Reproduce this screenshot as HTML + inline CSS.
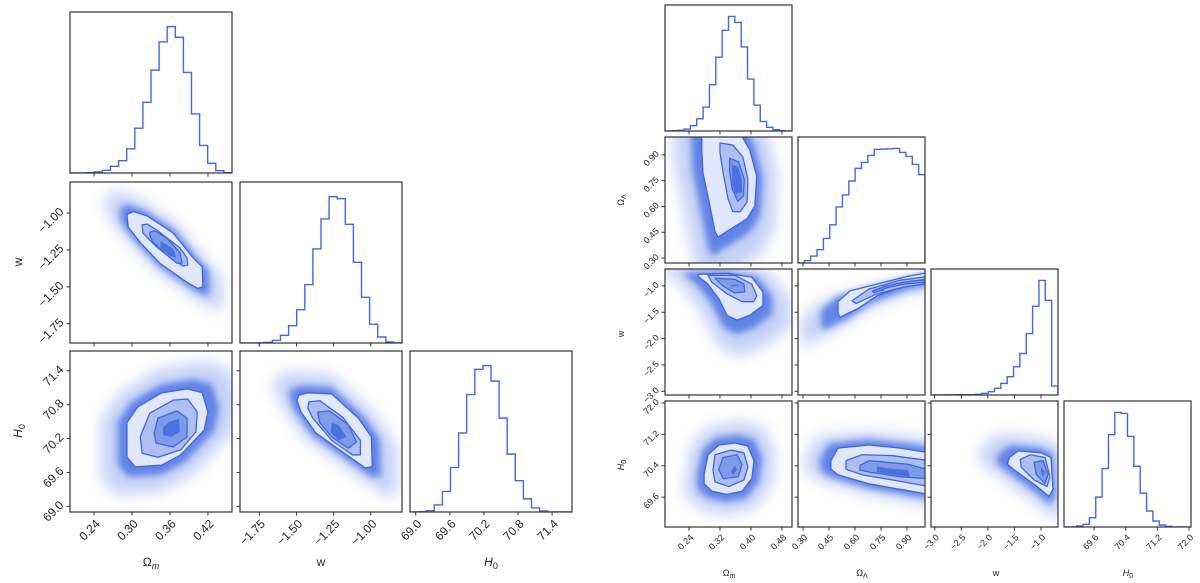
<!DOCTYPE html>
<html><head><meta charset="utf-8">
<style>
html,body{margin:0;padding:0;background:#fff;}
svg{display:block;font-family:"Liberation Sans","DejaVu Sans",sans-serif;}
</style></head>
<body>
<svg id="fig" width="1200" height="583" viewBox="0 0 1200 583" xmlns="http://www.w3.org/2000/svg">
<defs>
<filter id="blurA" x="-50%" y="-50%" width="200%" height="200%"><feGaussianBlur stdDeviation="7"/></filter>
<filter id="blurB" x="-50%" y="-50%" width="200%" height="200%"><feGaussianBlur stdDeviation="3.5"/></filter>
</defs>
</svg>
<script>
// ---------- 1D histogram counts (20 bins each) ----------
const L_OM_HIST = [0,0,1,3,8,20,37,73,135,213,310,395,441,409,303,178,83,29,7,1];
const L_W_HIST  = [0,0,0.5,2,8,23,52,100,175,282,372,439,433,356,242,137,56,18,3,0];
const L_H0_HIST = [0,1,4,21,61,132,235,349,424,435,389,279,172,93,39,12,3,0,0,0];
const R_OM_HIST = [0,1,2,6,16,37,72,140,223,304,346,328,254,157,78,29,11,4,1,0];
const R_OL_HIST = [0,7,21,40,74,115,169,205,247,285,303,324,342,343,344,345,333,321,297,266];
const R_W_HIST  = [0.3,0.3,0.5,0.5,1,1,1,2,5,10,20,35,55,85,125,185,267,345,285,27];
const R_H0_HIST = [0,0,3,8,28,90,176,278,345,342,273,183,102,48,18,6,2,0,0,0];

// ---------- axis ranges & ticks ----------
const L_OM_RANGE = [0.202,0.458], L_W_RANGE = [-1.88,-0.79], L_H0_RANGE = [68.9,71.75];
const L_OM_TICKS = [0.24,0.30,0.36,0.42];
const L_W_TICKS = [-1.75,-1.50,-1.25,-1.00];
const L_H0_TICKS = [69.0,69.6,70.2,70.8,71.4];
const R_OM_RANGE = [0.178,0.506], R_OL_RANGE = [0.271,1.004], R_W_RANGE = [-3.07,-0.68], R_H0_RANGE = [68.84,72.05];
const R_OM_TICKS = [0.24,0.32,0.40,0.48];
const R_OL_TICKS = [0.30,0.45,0.60,0.75,0.90];
const R_W_TICKS = [-3.0,-2.5,-2.0,-1.5,-1.0];
const R_H0_TICKS = [69.6,70.4,71.2,72.0];

// ---------- 2D contour levels (data coordinates) ----------
const L_OM_W = {
 outer:[[0.292,-1.01],[0.302,-0.99],[0.324,-1.02],[0.365,-1.135],[0.396,-1.30],[0.411,-1.365],[0.412,-1.50],[0.404,-1.51],[0.387,-1.47],[0.344,-1.34],[0.313,-1.20],[0.294,-1.095]],
 mid:[[0.316,-1.08],[0.324,-1.075],[0.339,-1.115],[0.376,-1.237],[0.387,-1.305],[0.388,-1.352],[0.381,-1.359],[0.365,-1.318],[0.339,-1.23],[0.317,-1.134]],
 inner:[[0.328,-1.13],[0.336,-1.12],[0.355,-1.17],[0.376,-1.27],[0.379,-1.34],[0.371,-1.34],[0.355,-1.284],[0.333,-1.196],[0.328,-1.15]],
 core:[[0.345,-1.19],[0.365,-1.24],[0.37,-1.3],[0.36,-1.29],[0.345,-1.235]]
};
const L_OM_H0 = {
 outer:[[0.292,70.48],[0.309,70.76],[0.347,71.01],[0.388,71.08],[0.411,71.01],[0.420,70.67],[0.414,70.35],[0.377,69.91],[0.347,69.73],[0.305,69.70],[0.292,69.87],[0.292,70.23]],
 mid:[[0.313,70.23],[0.328,70.65],[0.365,70.88],[0.388,70.90],[0.403,70.67],[0.401,70.32],[0.377,70.0],[0.341,69.87],[0.316,69.94]],
 inner:[[0.335,70.30],[0.341,70.56],[0.371,70.69],[0.387,70.56],[0.387,70.23],[0.365,70.05],[0.338,70.12]],
 core:[[0.349,70.39],[0.358,70.49],[0.374,70.55],[0.376,70.32],[0.362,70.23],[0.349,70.26]]
};
const L_W_H0 = {
 outer:[[-1.483,70.97],[-1.417,71.01],[-1.263,70.99],[-1.083,70.56],[-0.996,70.23],[-0.990,69.70],[-1.037,69.68],[-1.163,69.91],[-1.37,70.30],[-1.47,70.67],[-1.497,70.88]],
 mid:[[-1.417,70.85],[-1.343,70.87],[-1.19,70.58],[-1.07,70.17],[-1.07,69.91],[-1.123,69.91],[-1.263,70.17],[-1.39,70.56],[-1.423,70.74]],
 inner:[[-1.357,70.67],[-1.277,70.69],[-1.15,70.44],[-1.097,70.14],[-1.15,70.03],[-1.263,70.23],[-1.343,70.48]],
 core:[[-1.263,70.48],[-1.217,70.44],[-1.163,70.23],[-1.217,70.17],[-1.27,70.32]]
};
const R_OM_OL = {
 outer:[[0.273,1.03],[0.371,1.03],[0.397,0.929],[0.415,0.775],[0.410,0.603],[0.390,0.529],[0.338,0.455],[0.315,0.421],[0.307,0.455],[0.294,0.603],[0.276,0.797],[0.273,0.929]],
 mid:[[0.320,0.969],[0.353,0.957],[0.379,0.889],[0.392,0.757],[0.390,0.626],[0.372,0.569],[0.353,0.569],[0.341,0.643],[0.328,0.797],[0.320,0.912]],
 inner:[[0.345,0.88],[0.368,0.86],[0.383,0.757],[0.381,0.66],[0.366,0.63],[0.352,0.70],[0.345,0.80]],
 core:[[0.351,0.843],[0.366,0.832],[0.377,0.757],[0.377,0.683],[0.359,0.672],[0.351,0.740]]
};
const R_OM_W = {
 outer:[[0.263,-0.781],[0.338,-0.763],[0.402,-0.837],[0.431,-1.114],[0.431,-1.373],[0.397,-1.558],[0.364,-1.65],[0.338,-1.558],[0.317,-1.244],[0.289,-0.966],[0.266,-0.837]],
 mid:[[0.289,-0.80],[0.358,-0.80],[0.402,-0.966],[0.415,-1.188],[0.407,-1.30],[0.377,-1.30],[0.338,-1.151],[0.299,-0.929]],
 inner:[[0.307,-0.855],[0.358,-0.874],[0.382,-0.966],[0.384,-1.114],[0.358,-1.133],[0.328,-1.003]],
 core:[[0.345,-0.99],[0.365,-0.975],[0.37,-1.0],[0.35,-1.01]]
};
const R_OL_W = {
 outer:[[0.502,-1.30],[0.571,-1.096],[0.727,-0.966],[0.906,-0.818],[1.03,-0.744],[1.03,-0.91],[0.883,-1.003],[0.727,-1.188],[0.617,-1.429],[0.513,-1.595],[0.502,-1.52]],
 mid:[[0.583,-1.28],[0.681,-1.059],[0.86,-0.892],[1.03,-0.818],[1.03,-0.948],[0.883,-1.022],[0.727,-1.151],[0.606,-1.336]],
 inner:[[0.70,-1.10],[0.78,-1.0],[0.88,-0.93],[1.03,-0.87],[1.03,-0.92],[0.88,-0.97],[0.78,-1.04],[0.71,-1.13]],
 core:[[0.73,-1.09],[0.76,-1.07],[0.77,-1.09],[0.74,-1.11]]
};
const R_OM_H0 = {
 outer:[[0.279,70.19],[0.289,70.68],[0.317,70.93],[0.359,70.98],[0.392,70.90],[0.408,70.53],[0.402,70.07],[0.377,69.75],[0.338,69.67],[0.299,69.75],[0.279,69.94]],
 mid:[[0.302,70.29],[0.307,70.68],[0.348,70.80],[0.382,70.73],[0.392,70.36],[0.382,70.04],[0.343,69.87],[0.307,69.99]],
 inner:[[0.317,70.31],[0.328,70.61],[0.364,70.68],[0.377,70.44],[0.367,70.12],[0.328,70.07]],
 core:[[0.348,70.24],[0.359,70.41],[0.364,70.29],[0.354,70.17]]
};
const R_OL_H0 = {
 outer:[[0.461,70.53],[0.502,70.85],[0.681,70.93],[0.86,70.85],[1.03,70.73],[1.03,69.67],[0.86,69.80],[0.681,69.94],[0.502,70.17],[0.461,70.31]],
 mid:[[0.548,70.53],[0.64,70.68],[0.813,70.66],[1.03,70.53],[1.03,69.87],[0.813,70.04],[0.64,70.17],[0.548,70.31]],
 inner:[[0.629,70.41],[0.681,70.53],[0.906,70.44],[1.03,70.29],[1.03,70.07],[0.86,70.12],[0.681,70.24],[0.629,70.29]],
 core:[[0.727,70.39],[0.773,70.34],[0.906,70.29],[0.917,70.12],[0.813,70.17],[0.727,70.24]]
};
const R_W_H0 = {
 outer:[[-1.596,70.61],[-1.428,70.78],[-1.0,70.73],[-0.812,70.61],[-0.775,69.80],[-0.85,69.62],[-1.073,69.87],[-1.50,70.29],[-1.633,70.44]],
 mid:[[-1.391,70.56],[-1.204,70.68],[-0.924,70.61],[-0.831,70.12],[-0.887,69.87],[-1.129,70.04],[-1.372,70.36]],
 inner:[[-1.129,70.49],[-0.962,70.53],[-0.869,70.19],[-0.924,69.94],[-1.092,70.19]],
 core:[[-1.0,70.36],[-0.924,70.24],[-0.962,70.12],[-1.0,70.22]]
};

const NS = "http://www.w3.org/2000/svg";
const svg = document.getElementById('fig');
let clipId = 0;
function mk(tag, attrs, parent){
  const e = document.createElementNS(NS, tag);
  for (const k in attrs) e.setAttribute(k, attrs[k]);
  (parent||svg).appendChild(e);
  return e;
}
function scales(P){
  const xs = v => P.x + (v - P.xr[0]) / (P.xr[1] - P.xr[0]) * P.w;
  const ys = v => P.y + P.h - (v - P.yr[0]) / (P.yr[1] - P.yr[0]) * P.h;
  return [xs, ys];
}
function fmt(v, d){ const s = Math.abs(v).toFixed(d); return (v < 0 ? "\u2212" : "") + s; }

function frame(P, name){
  const g = mk('g', {});
  
  
  const cid = 'clip' + (clipId++);
  const cp = mk('clipPath', {id: cid}, g);
  mk('rect', {x:P.x, y:P.y, width:P.w, height:P.h}, cp);
  const inner = mk('g', {'clip-path':'url(#'+cid+')'}, g);
  return [g, inner];
}
function border(g, P){
  const r = mk('rect', {x:P.x, y:P.y, width:P.w, height:P.h, fill:'none', stroke:'#333', 'stroke-width':1.2}, g);
  
  
}
function rotLabel(g, ax, ay, fs, txt, name){
  const wrap = mk('g', {transform:'translate(' + ax.toFixed(2) + ',' + ay.toFixed(2) + ') rotate(-45)'}, g);
  const tx = mk('text', {x:0, y:0, dy:(fs*0.35).toFixed(2), 'font-size':fs, 'text-anchor':'end', fill:'#222'}, wrap);
  
  
  tx.textContent = txt;
}
function xticks(g, P, ticks, dec, labels, fs){
  const [xs] = scales(P);
  ticks.forEach(t => {
    const x = xs(t);
    mk('line', {x1:x, x2:x, y1:P.y+P.h, y2:P.y+P.h+3.5, stroke:'#333', 'stroke-width':1}, g);
    if (labels) rotLabel(g, x + fs*0.3, P.y + P.h + 6 + fs*0.3, fs, fmt(t, dec), 'x-tick-label');
  });
}
function yticks(g, P, ticks, dec, labels, fs){
  const [, ys] = scales(P);
  ticks.forEach(t => {
    const y = ys(t);
    mk('line', {x1:P.x-3.5, x2:P.x, y1:y, y2:y, stroke:'#333', 'stroke-width':1}, g);
    if (labels) rotLabel(g, P.x - 5 - fs*0.3, y - fs*0.3, fs, fmt(t, dec), 'y-tick-label');
  });
}
function hist(P, counts, name){
  const [g, inner] = frame(P, name);
  const [xs] = scales(P);
  const n = counts.length, mx = Math.max.apply(null, counts) * 1.1;
  const bw = (P.xr[1] - P.xr[0]) / n;
  const yb = P.y + P.h;
  const yc = c => yb - c / mx * P.h;
  let d = 'M' + xs(P.xr[0]) + ',' + yb;
  counts.forEach((c, i) => {
    d += ' L' + xs(P.xr[0] + i*bw) + ',' + yc(c) + ' L' + xs(P.xr[0] + (i+1)*bw) + ',' + yc(c);
  });
  d += ' L' + xs(P.xr[1]) + ',' + yb;
  const p = mk('path', {d:d, fill:'none', stroke:'#4169e1', 'stroke-width':1.4}, inner);
  
  
  border(g, P);
  return g;
}
function polyPts(pts, xs, ys, cx, cy, k, dx, dy){
  return pts.map(p => {
    const X = xs(p[0]), Y = ys(p[1]);
    return ((cx + (X-cx)*k) + (dx||0)) + ',' + ((cy + (Y-cy)*k) + (dy||0));
  }).join(' ');
}
function contourPanel(P, C, name, cloud){
  const [g, inner] = frame(P, name);
  const [xs, ys] = scales(P);
  let cx = 0, cy = 0;
  C.outer.forEach(p => { cx += xs(p[0]); cy += ys(p[1]); });
  cx /= C.outer.length; cy /= C.outer.length;
  const c1 = mk('polygon', {points: polyPts(C.outer, xs, ys, cx, cy, cloud.k1, cloud.dx, cloud.dy), fill:'#4169e1', opacity:0.3, filter:'url(#blurA)'}, inner);
  
  
  const c2 = mk('polygon', {points: polyPts(C.outer, xs, ys, cx, cy, cloud.k2, cloud.dx*0.5, cloud.dy*0.5), fill:'#4169e1', opacity:0.75, filter:'url(#blurB)'}, inner);
  
  
  const fills = [['outer','#e2e8fb'],['mid','#adbff1'],['inner','#7e9be8'],['core','#4a70e1']];
  fills.forEach(([lvl, col]) => {
    const pg = mk('polygon', {points: polyPts(C[lvl], xs, ys, 0, 0, 1), fill:col,
      stroke: lvl === 'core' ? 'none' : '#3f66de', 'stroke-width':1.3, 'stroke-linejoin':'round'}, inner);
    
    
  });
  border(g, P);
  return g;
}
function label(x, y, html, fs, rot, name){
  const t = mk('text', {x:x, y:y, 'font-size':fs, 'text-anchor':'middle', fill:'#222'});
  if (rot) t.setAttribute('transform', 'rotate(-90 '+x+' '+y+')');
  
  
  t.innerHTML = html;
  return t;
}

// ===== LEFT corner =====
const LC = [70, 240, 410], LR = [12, 182, 351], LW = 162, LH = 161;
const LRng = [L_OM_RANGE, L_W_RANGE, L_H0_RANGE];
const LTk = [L_OM_TICKS, L_W_TICKS, L_H0_TICKS];
const LDec = [2, 2, 1];
const LH1 = [L_OM_HIST, L_W_HIST, L_H0_HIST];
const L2D = {'1-0':L_OM_W, '2-0':L_OM_H0, '2-1':L_W_H0};
const LCloud = {'1-0':{k1:1.55,k2:1.18,dx:0,dy:0}, '2-0':{k1:1.7,k2:1.25,dx:0,dy:0}, '2-1':{k1:1.65,k2:1.22,dx:0,dy:0}};
for (let r = 0; r < 3; r++){
  for (let c = 0; c <= r; c++){
    const P = {x:LC[c], y:LR[r], w:LW, h:LH, xr:LRng[c], yr: r===c ? [0,1] : LRng[r]};
    let g;
    if (r === c) g = hist(P, LH1[r], 'left-hist-' + r);
    else g = contourPanel(P, L2D[r+'-'+c], 'left-contour-' + r + '-' + c, LCloud[r+'-'+c]);
    xticks(g, P, LTk[c], LDec[c], r === 2, 12);
    if (r !== c) yticks(g, P, LTk[r], LDec[r], c === 0, 12);
  }
}
label(151, 566, '\u03A9<tspan font-size="9" dy="3" font-style="italic">m</tspan>', 12, false, 'x-axis-title-omega-m');
label(321, 566, 'w', 12, false, 'x-axis-title-w');
label(491, 566, '<tspan font-style="italic">H</tspan><tspan font-size="9" dy="3">0</tspan>', 12, false, 'x-axis-title-h0');
label(22, 262, 'w', 12, true, 'y-axis-title-w');
label(22, 431, '<tspan font-style="italic">H</tspan><tspan font-size="9" dy="3">0</tspan>', 12, true, 'y-axis-title-h0');

// ===== RIGHT corner =====
const RC = [665, 798, 931, 1064], RR = [5, 137, 269, 401], RW = 127, RH = 126;
const RRng = [R_OM_RANGE, R_OL_RANGE, R_W_RANGE, R_H0_RANGE];
const RTk = [R_OM_TICKS, R_OL_TICKS, R_W_TICKS, R_H0_TICKS];
const RDec = [2, 2, 1, 1];
const RH1 = [R_OM_HIST, R_OL_HIST, R_W_HIST, R_H0_HIST];
const R2D = {'1-0':R_OM_OL, '2-0':R_OM_W, '2-1':R_OL_W, '3-0':R_OM_H0, '3-1':R_OL_H0, '3-2':R_W_H0};
const RCloud = {'1-0':{k1:1.9,k2:1.3,dx:-6,dy:8}, '2-0':{k1:2.0,k2:1.35,dx:-4,dy:10}, '2-1':{k1:1.7,k2:1.3,dx:-10,dy:12},
  '3-0':{k1:1.8,k2:1.3,dx:0,dy:0}, '3-1':{k1:1.6,k2:1.25,dx:0,dy:0}, '3-2':{k1:1.9,k2:1.3,dx:-8,dy:0}};
for (let r = 0; r < 4; r++){
  for (let c = 0; c <= r; c++){
    const P = {x:RC[c], y:RR[r], w:RW, h:RH, xr:RRng[c], yr: r===c ? [0,1] : RRng[r]};
    let g;
    if (r === c) g = hist(P, RH1[r], 'right-hist-' + r);
    else g = contourPanel(P, R2D[r+'-'+c], 'right-contour-' + r + '-' + c, RCloud[r+'-'+c]);
    xticks(g, P, RTk[c], RDec[c], r === 3, 9);
    if (r !== c) yticks(g, P, RTk[r], RDec[r], c === 0, 9);
  }
}
label(729, 576, '\u03A9<tspan font-size="7" dy="2">m</tspan>', 9, false, 'right-x-axis-title-omega-m');
label(862, 576, '\u03A9<tspan font-size="7" dy="2">\u039B</tspan>', 9, false, 'right-x-axis-title-omega-lambda');
label(996, 576, 'w', 9, false, 'right-x-axis-title-w');
label(1128, 576, '<tspan font-style="italic">H</tspan><tspan font-size="7" dy="2">0</tspan>', 9, false, 'right-x-axis-title-h0');
label(624, 200, '\u03A9<tspan font-size="7" dy="2">\u039B</tspan>', 9, true, 'right-y-axis-title-omega-lambda');
label(624, 334, 'w', 9, true, 'right-y-axis-title-w');
label(624, 465, '<tspan font-style="italic">H</tspan><tspan font-size="7" dy="2">0</tspan>', 9, true, 'right-y-axis-title-h0');
</script>
</body></html>
